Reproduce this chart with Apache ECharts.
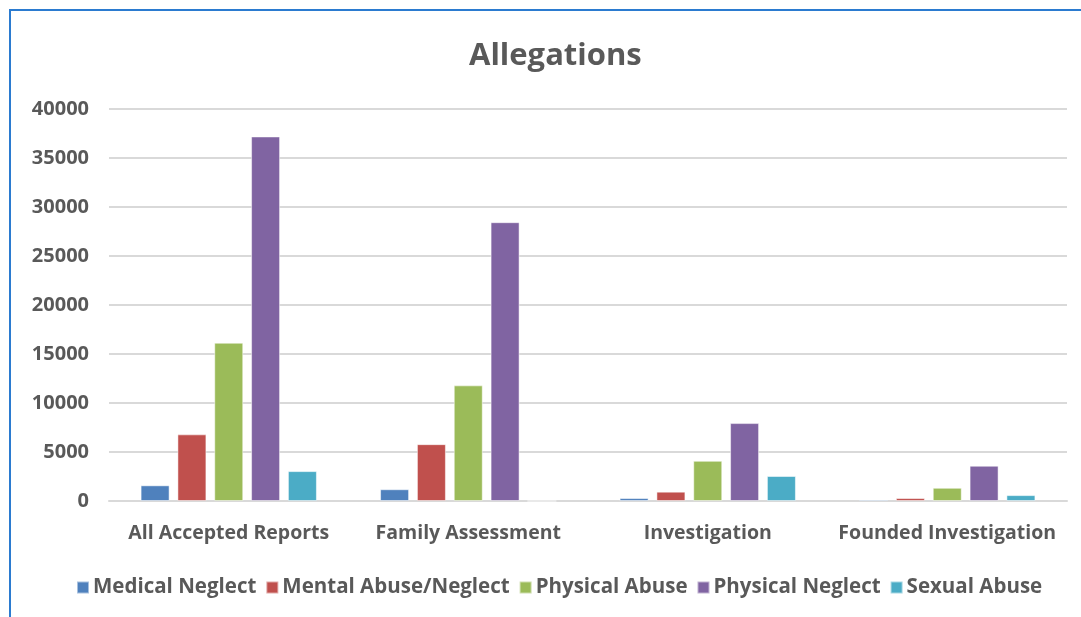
<!DOCTYPE html>
<html>
<head>
<meta charset="utf-8">
<script src="https://cdn.jsdelivr.net/npm/echarts@6/dist/echarts.min.js"></script>
<style>
  html, body { margin: 0; padding: 0; background: #fff; overflow: hidden; }
  .frame {
    position: absolute; left: 9px; top: 9px;
    width: 1100px; height: 640px;
    border: 2px solid #2b7bd0; box-sizing: border-box;
  }
  #chart { position: absolute; left: 0; top: 0; width: 1081px; height: 617px; }
</style>
</head>
<body>
<div class="frame"></div>
<div id="chart"></div>
<script>
const categories = ['All Accepted Reports', 'Family Assessment', 'Investigation', 'Founded Investigation'];
const seriesNames = ['Medical Neglect', 'Mental Abuse/Neglect', 'Physical Abuse', 'Physical Neglect', 'Sexual Abuse'];
const medicalNeglect = [1600, 1200, 300, 150];
const mentalAbuse = [6800, 5800, 950, 300];
const physicalAbuse = [16150, 11800, 4100, 1350];
const physicalNeglect = [37200, 28450, 7950, 3600];
const sexualAbuse = [3050, 0, 2550, 600];
const colors = ['#4F81BD', '#C0504D', '#9BBB59', '#8064A2', '#4BACC6'];

const values = [medicalNeglect, mentalAbuse, physicalAbuse, physicalNeglect, sexualAbuse];
const font = '"Open Sans", sans-serif';

const chart = echarts.init(document.getElementById('chart'));
chart.setOption({
  animation: false,
  color: colors,
  title: {
    text: 'Allegations',
    left: 464,
    top: 36,
    textStyle: { fontFamily: font, fontSize: 31, fontWeight: 'bold', color: '#595959' },
  },
  legend: {
    left: 71,
    top: 572,
    icon: 'rect',
    itemWidth: 12,
    itemHeight: 12,
    itemGap: 9,
    textStyle: { fontFamily: font, fontSize: 20.5, fontWeight: 'bold', color: '#595959', padding: [0, 0, 0, -1] },
    data: seriesNames,
  },
  grid: { left: 109, right: 14, top: 109, bottom: 116, containLabel: false },
  xAxis: {
    type: 'category',
    data: categories,
    axisLine: { lineStyle: { color: '#d9d9d9', width: 2 } },
    axisTick: { show: false },
    axisLabel: { interval: 0, fontFamily: font, fontSize: 19.5, fontWeight: 'bold', color: '#595959', margin: 22 },
  },
  yAxis: {
    type: 'value',
    min: 0,
    max: 40000,
    interval: 5000,
    axisLine: { show: false },
    axisTick: { show: false },
    axisLabel: {
      formatter: (v) => String(v),
      fontFamily: font, fontSize: 20, fontWeight: 'bold', color: '#595959', margin: 20,
    },
    splitLine: { lineStyle: { color: '#d9d9d9', width: 2 } },
  },
  series: seriesNames.map((name, i) => ({
    name,
    type: 'bar',
    data: values[i],
    barWidth: 29,
    barGap: '27%',
    itemStyle: { borderColor: 'rgba(255,255,255,0.5)', borderWidth: 1 },
  })),
});
</script>
</body>
</html>
